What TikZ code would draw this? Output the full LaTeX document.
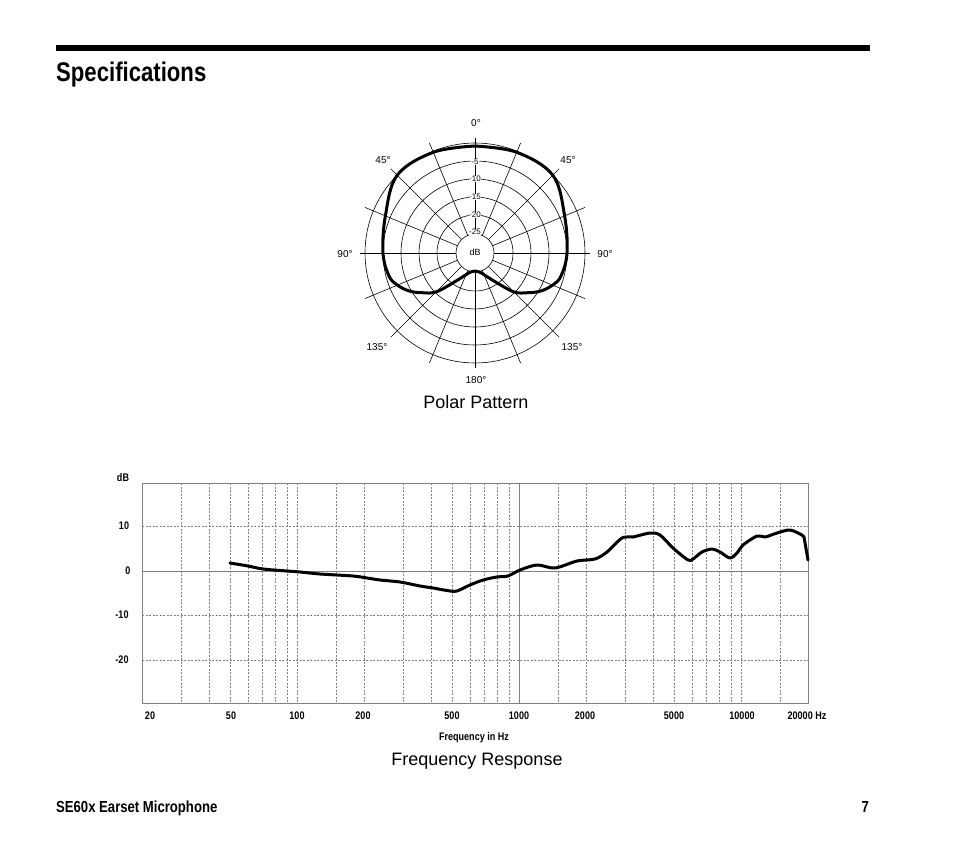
\documentclass[tikz,border=0pt]{standalone}
\usepackage{fontspec}
\usetikzlibrary{calc}
\setmainfont{Liberation Sans}
\newfontfamily\condf[FakeStretch=0.82]{Liberation Sans}
\begin{document}
\begin{tikzpicture}[x=1pt,y=-1pt,
  grid/.style={gray,dashed,line width=0.6pt,dash pattern=on 2pt off 1.5pt},
  ring/.style={line width=0.6pt},
  curve/.style={line width=3pt,line cap=round,line join=round},
  pl/.style={font=\fontsize{10}{12}\selectfont},
  ax/.style={font=\condf\bfseries\fontsize{11}{13}\selectfont}]
\useasboundingbox (0,0) rectangle (954,856);
% header
\draw[line width=6pt] (56,48) -- (870,48);
\node[anchor=base west,inner sep=0,font=\condf\bfseries\fontsize{27}{30}\selectfont] (title) at (56,82) {Specifications};
% polar
\coordinate (c) at (475,253);
\foreach \r in {110,92,74,56,38} \draw[ring] (c) circle (\r);
\foreach \a in {22.5,45,67.5,112.5,135,157.5,202.5,225,247.5,292.5,315,337.5}
  \draw[ring] ($(c)+(\a:19)$) -- ($(c)+(\a:119)$);
\draw[ring] ($(c)+(0,-115)$) -- ($(c)+(0,115)$);
\draw[ring] ($(c)+(-115,0)$) -- ($(c)+(115,0)$);
\draw[ring,fill=white] (c) circle (19);
\node[font=\fontsize{9}{10}\selectfont,inner sep=0] (db) at (475,252) {dB};
\foreach \r/\t in {91/-5,74/-10,56/-15,38/-20,21/-25}
  \node[fill=white,inner sep=0.6pt,font=\fontsize{8}{9}\selectfont] at ($(c)+(0,-\r)$) {\t};
\draw[curve] plot[smooth,tension=0.6] coordinates {
 (475,146) (516.7,152.3) (552.8,175.2) (564.6,215.9) (567,253) (561,276) (552.6,285.1) (540.8,291) (527.7,292.7) (513.9,291.9) (495.1,281.7) (482.5,273.7) (478.3,271.7) (475,271)
 (471.7,271.7) (467.5,273.7) (454.9,281.7) (436.1,291.9) (422.3,292.7) (409.2,291) (397.4,285.1) (389,276) (383,253) (385.4,215.9) (397.2,175.2) (433.3,152.3) (475,146)};
\node[pl] at (476,123) {0°};
\node[pl] at (383,160) {45°};
\node[pl] at (568,160) {45°};
\node[pl] at (345,254) {90°};
\node[pl] at (605,254) {90°};
\node[pl] at (377,347) {135°};
\node[pl] at (572,347) {135°};
\node[pl] at (476,380) {180°};
\node[font=\fontsize{18}{20}\selectfont] (pp) at (476,402) {Polar Pattern};
% frequency chart
\foreach \f in {30,40,50,60,70,80,90,100,150,200,300,400,500,600,700,800,900,1500,2000,3000,4000,5000,6000,7000,8000,9000,10000,15000}
  \draw[grid] ({142+222*ln(\f/20)/ln(10)},483) -- ({142+222*ln(\f/20)/ln(10)},703);
\foreach \y in {526,615,660} \draw[grid] (142,\y) -- (808,\y);
\draw[gray,line width=0.8pt] (142,571) -- (808,571);
\draw[gray,line width=0.8pt] (519,483) -- (519,703);
\draw[gray,line width=0.8pt] (142,483) rectangle (808,703);
\draw[curve] plot[smooth,tension=0.5] coordinates {
(230,563) (248,566) (263,569) (287,571) (300,572) (320,574) (353,576) (367,578) (380,580) (400,582) (420,586) (433,588) (450,591) (457,591) (470,585) (483,580) (497,577) (508,576) (520,570) (537,565) (555,568) (577,561) (595,559) (607,552) (622,538) (633,537) (650,533) (660,535) (673,548) (688,560) (693,559) (702,552) (712,549) (720,552) (730,558) (737,553) (743,545) (757,536) (765,537) (777,533) (790,530) (802,535)};
\draw[curve] (802,535) -- (804,537) -- (808,560);
\node[ax] at (123,478) {dB};
\node[ax] at (124,526) {10};
\node[ax] at (128,571) {0};
\node[ax] at (122,615) {-10};
\node[ax] at (122,660) {-20};
\foreach \x/\t in {150/20,231/50,297/100,363/200,452/500,519/1000,585/2000,674/5000,742/10000}
  \node[ax] at (\x,716) {\t};
\node[ax] at (807,716) {20000 Hz};
\node[ax] at (474,738) {Frequency in Hz};
\node[font=\fontsize{18}{20}\selectfont] (fr) at (477,761) {Frequency Response};
% footer
\node[anchor=base west,inner sep=0,font=\condf\bfseries\fontsize{16}{18}\selectfont] (foot) at (56,812) {SE60x Earset Microphone};
\node[anchor=base east,inner sep=0,font=\condf\bfseries\fontsize{16}{18}\selectfont] (pg) at (869,812) {7};
\end{tikzpicture}
\end{document}
